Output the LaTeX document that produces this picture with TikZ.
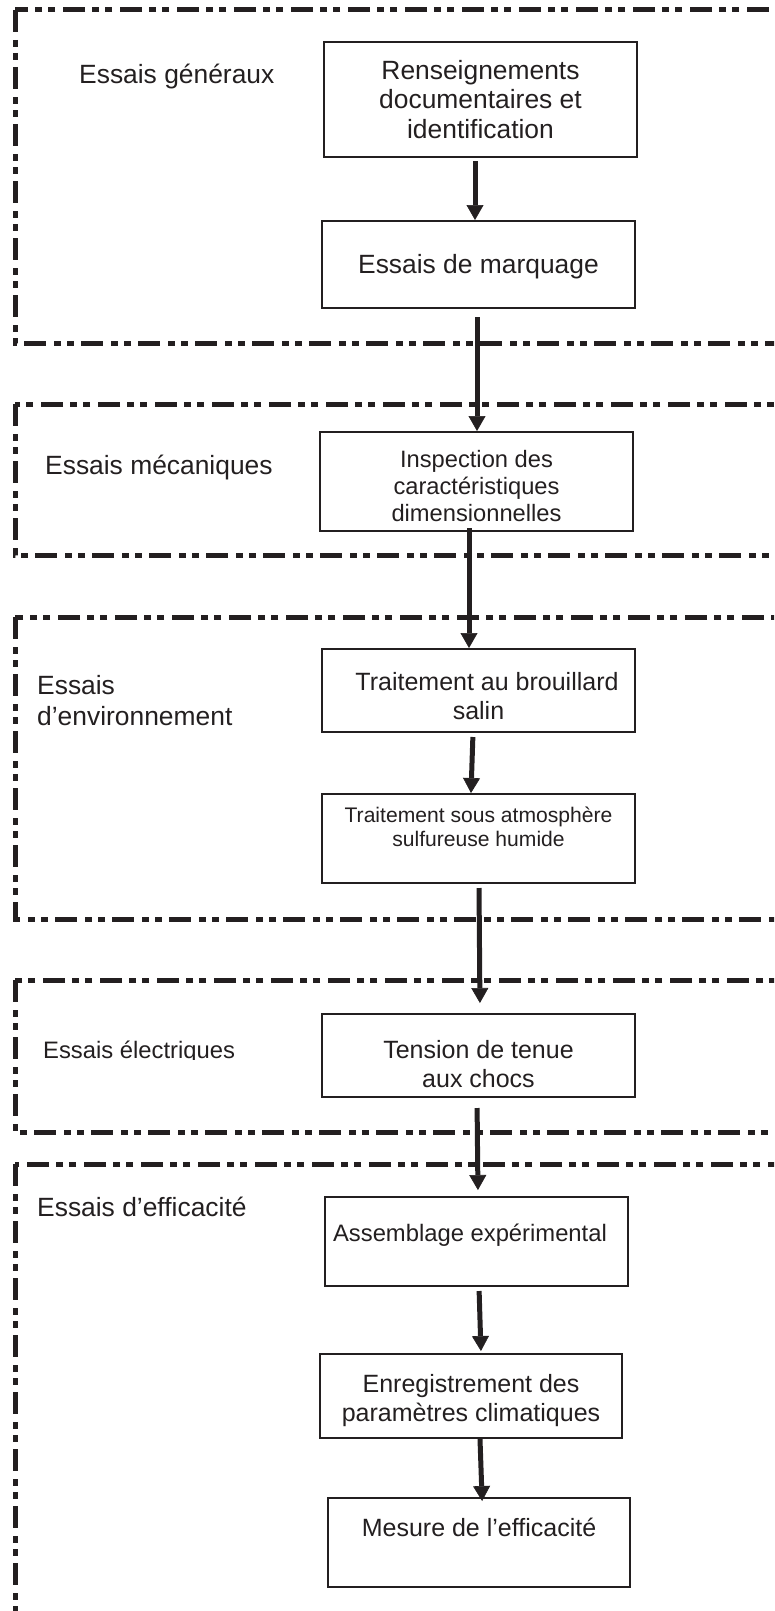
\documentclass[tikz,border=0pt]{standalone}
\usepackage{fontspec}
\setmainfont{Liberation Sans}
\usepackage{tikz}
\usetikzlibrary{arrows.meta}
\definecolor{ink}{RGB}{35,31,32}
\tikzset{>={Triangle[width=17pt,length=15pt,line width=0.6pt]}}
\newcommand{\fsz}[2]{\fontsize{#1}{#2}\selectfont}

\begin{document}
\begin{tikzpicture}[x=1pt, y=-1pt, color=ink,
    grp/.style={line width=5pt, dash pattern=on 22pt off 8pt on 7pt off 6pt on 7pt off 7pt},
    box/.style={draw, line width=2pt, inner sep=0pt, text height=20pt, align=center, font=\fsz{25}{28.4}},
    lbl/.style={inner sep=0pt, anchor=base west, align=left, font=\fsz{26.4}{31}},
    arr/.style={->, line width=5pt}]

	\useasboundingbox (0,0) rectangle (774,1611);
	\clip (0,0) rectangle (774,1611);

	% cadres des groupes d'essais
	\draw[grp] (15,10) rectangle (800,343);
	\draw[grp] (15,404) rectangle (800,555);
	\draw[grp] (15,617) rectangle (800,919);
	\draw[grp] (15,980) rectangle (800,1132);
	\draw[grp] (15,1164) rectangle (800,1650);

	\node[lbl] (gen) at (79,83) {Essais généraux};
	\node[lbl] (mec) at (45,474) {Essais mécaniques};
	\node[lbl] (env) at (37,725) {Essais\\d’environnement};
	\begin{scope}
		\clip (0,1000) rectangle (300,1059.5);
		\node[lbl, font=\fsz{23.8}{28}] (ele) at (43,1058.5) {Essais électriques};
	\end{scope}
	\node[lbl] (eff) at (37,1216) {Essais d’efficacité};

	% etapes
	\node[box, minimum width=313pt, minimum height=115pt, text height=80pt, text depth=3pt, font=\fsz{26.4}{29.5}] (rens) at (480.5,99.5) {Renseignements\\documentaires et\\identification};
	\node[box, minimum width=313pt, minimum height=87pt, text depth=3pt, font=\fsz{26.4}{29.5}] (marq) at (478.5,264.5) {Essais de marquage};
	\node[box, minimum width=313pt, minimum height=99pt, text height=82pt, text depth=3pt, font=\fsz{23.7}{27}] (insp) at (476.5,481.5) {Inspection des\\caractéristiques\\dimensionnelles};
	\node[box, minimum width=313pt, minimum height=83pt, text height=60pt, text depth=2.4pt, font=\fsz{25}{28.6}] (brou) at (478.5,690.5) {\hspace*{17pt}Traitement au brouillard\\salin};
	\node[box, minimum width=313pt, minimum height=89pt, text height=20pt, text depth=3.6pt, font=\fsz{21.1}{24.4}] (sulf) at (478.5,838.5) {Traitement sous atmosphère\\sulfureuse humide};
	\node[box, minimum width=313pt, minimum height=83pt, text height=66pt, text depth=2.4pt] (tens) at (478.5,1055.5) {Tension de tenue\\aux chocs};
	\node[box, minimum width=303pt, minimum height=89pt, text depth=21pt, font=\fsz{23.8}{27}] (asse) at (476.5,1241.5) {Assemblage expérimental\hspace*{13pt}};
	\node[box, minimum width=302pt, minimum height=84pt, text height=52pt, text depth=2pt] (enre) at (471,1396) {Enregistrement des\\paramètres climatiques};
	\node[box, minimum width=302pt, minimum height=89pt, text depth=31.6pt] (mesu) at (479,1542.5) {Mesure de l’efficacité};

	% fleches
	\draw[arr, shorten <=3pt] ([xshift=-5.5pt]rens.south) -- ([xshift=-3.5pt]marq.north);
	\draw[arr, shorten <=8pt] ([xshift=-1.5pt]marq.south) -- ([xshift=0.5pt]insp.north);
	\draw[arr, shorten <=-4pt] ([xshift=-7.5pt]insp.south) -- ([xshift=-9.5pt]brou.north);
	\draw[arr, shorten <=4pt] ([xshift=-5.5pt]brou.south) -- ([xshift=-7.5pt]sulf.north);
	\draw[arr, shorten <=4pt, shorten >=10pt] ([xshift=0.5pt]sulf.south) -- ([xshift=1.5pt]tens.north);
	\draw[arr, shorten <=10pt, shorten >=6pt] ([xshift=-1.5pt]tens.south) -- ([xshift=1.5pt]asse.north);
	\draw[arr, shorten <=4pt, shorten >=2pt] ([xshift=2.5pt]asse.south) -- ([xshift=10pt]enre.north);
	\draw[arr, shorten >=-4pt] ([xshift=9pt]enre.south) -- ([xshift=3pt]mesu.north);

\end{tikzpicture}
\end{document}
